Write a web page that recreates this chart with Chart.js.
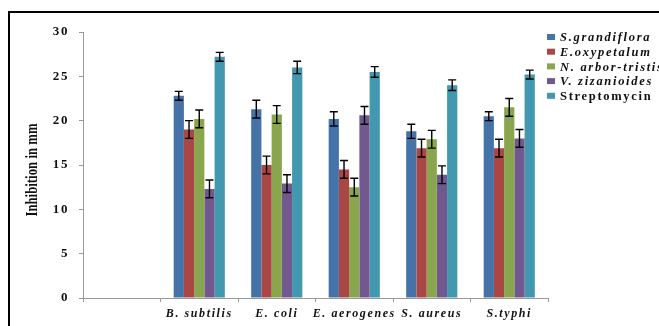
<!DOCTYPE html>
<html>
<head>
<meta charset="utf-8">
<script src="https://cdn.jsdelivr.net/npm/chart.js@4.4.1/dist/chart.umd.min.js"></script>
<style>
  html, body { margin: 0; padding: 0; background: #fff; overflow: hidden; }
  #wrap { position: relative; width: 659px; height: 326px; }
  #frame { position: absolute; left: 8px; top: 11px; width: 700px; height: 400px; border: 2px solid #000; pointer-events: none; }
  canvas { position: absolute; left: 0; top: 0; }
</style>
</head>
<body>
<div id="wrap">
  <canvas id="chart" width="659" height="326"></canvas>
  <div id="frame"></div>
</div>
<script>
// categories (first slot is left empty in the original)
const categories = ["", "B. subtilis", "E. coli", "E. aerogenes", "S. aureus", "S.typhi"];

// inhibition zone (mm)
const grandiflora  = [null, 22.8, 21.3, 20.2, 18.8, 20.5];
const oxypetalum   = [null, 19.0, 15.0, 14.5, 16.9, 16.9];
const arborTristis = [null, 20.2, 20.7, 12.5, 17.9, 21.5];
const zizanioides  = [null, 12.3, 12.9, 20.6, 13.9, 18.0];
const streptomycin = [null, 27.2, 26.0, 25.5, 24.0, 25.2];

// error values
const errGrandiflora  = [null, 0.5, 1.0, 0.8, 0.8, 0.5];
const errOxypetalum   = [null, 1.0, 1.0, 1.0, 1.0, 1.0];
const errArborTristis = [null, 1.0, 1.0, 1.0, 1.0, 1.0];
const errZizanioides  = [null, 1.0, 1.0, 1.0, 1.0, 1.0];
const errStreptomycin = [null, 0.5, 0.7, 0.6, 0.6, 0.5];

const yTicks = [0, 5, 10, 15, 20, 25, 30];

const SERIF = '"Liberation Serif", "Times New Roman", serif';

// 文字間隔
const spacingPlugin = {
    id: "spacing",
    beforeDraw(chart) {
        chart.ctx.letterSpacing = "1.6px";
    }
};

// エラーバー
const errorBarPlugin = {
    id: "errorBars",
    afterDatasetsDraw(chart) {
        const { ctx, scales } = chart;
        const y = scales.y;
        ctx.save();
        ctx.strokeStyle = "#000";
        ctx.lineWidth = 1.4;
        chart.data.datasets.forEach((ds, i) => {
            const meta = chart.getDatasetMeta(i);
            meta.data.forEach((bar, j) => {
                const v = ds.data[j];
                const e = ds.errors[j];
                if (v === null || e === null) return;
                const top = y.getPixelForValue(v + e);
                const bot = y.getPixelForValue(v - e);
                ctx.beginPath();
                ctx.moveTo(bar.x, top);
                ctx.lineTo(bar.x, bot);
                ctx.moveTo(bar.x - 4, top);
                ctx.lineTo(bar.x + 4, top);
                ctx.moveTo(bar.x - 4, bot);
                ctx.lineTo(bar.x + 4, bot);
                ctx.stroke();
            });
        });
        ctx.restore();
    }
};

// 凡例と軸タイトル
const legendPlugin = {
    id: "customLegend",
    afterDraw(chart) {
        const ctx = chart.ctx;
        ctx.save();
        ctx.textBaseline = "middle";
        ctx.textAlign = "left";
        chart.data.datasets.forEach((ds, i) => {
            const cy = 37 + i * 14.7;
            ctx.fillStyle = ds.backgroundColor;
            ctx.fillRect(547, cy - 3, 8, 6);
            ctx.fillStyle = "#111";
            ctx.letterSpacing = "1.7px";
            ctx.font = (ds.italic ? "italic " : "") + "bold 12.5px " + SERIF;
            ctx.fillText(ds.label, 560, cy + 1);
        });

        ctx.letterSpacing = "0px";
        ctx.translate(33, 170);
        ctx.rotate(-Math.PI / 2);
        ctx.scale(0.8, 1);
        ctx.textAlign = "center";
        ctx.font = "bold 16px " + SERIF;
        ctx.fillText("Inhibition in mm", 0, 0);
        ctx.restore();
    }
};

const datasets = [
    { label: "S.grandiflora", data: grandiflora, errors: errGrandiflora, backgroundColor: "#4572A7", italic: true },
    { label: "E.oxypetalum", data: oxypetalum, errors: errOxypetalum, backgroundColor: "#AA4643", italic: true },
    { label: "N. arbor-tristis", data: arborTristis, errors: errArborTristis, backgroundColor: "#89A54E", italic: true },
    { label: "V. zizanioides", data: zizanioides, errors: errZizanioides, backgroundColor: "#71588F", italic: true },
    { label: "Streptomycin", data: streptomycin, errors: errStreptomycin, backgroundColor: "#4198AF", italic: false }
].map(d => Object.assign(d, { categoryPercentage: 0.66, barPercentage: 1.0 }));

new Chart(document.getElementById("chart"), {
    type: "bar",
    data: { labels: categories, datasets: datasets },
    options: {
        responsive: false,
        animation: false,
        layout: { padding: { left: 0, right: 111, top: 32, bottom: 0 } },
        scales: {
            x: {
                grid: { drawOnChartArea: false, drawTicks: true, tickLength: 4, color: "#999", offset: true },
                border: { color: "#999" },
                ticks: {
                    autoSkip: false,
                    maxRotation: 0,
                    padding: 5,
                    color: "#111",
                    font: { family: SERIF, size: 12, style: "italic", weight: "bold" }
                },
                afterFit(scale) { scale.height = 28; }
            },
            y: {
                min: 0,
                max: 30,
                afterBuildTicks(scale) { scale.ticks = yTicks.map(v => ({ value: v })); },
                grid: { drawOnChartArea: false, drawTicks: true, tickLength: 4, color: "#999" },
                border: { color: "#999" },
                ticks: {
                    padding: 10,
                    color: "#111",
                    font: { family: SERIF, size: 13, weight: "bold" }
                },
                afterFit(scale) { scale.width = 83; }
            }
        },
        plugins: {
            legend: { display: false },
            tooltip: { enabled: false }
        }
    },
    plugins: [spacingPlugin, errorBarPlugin, legendPlugin]
});
</script>
</body>
</html>
